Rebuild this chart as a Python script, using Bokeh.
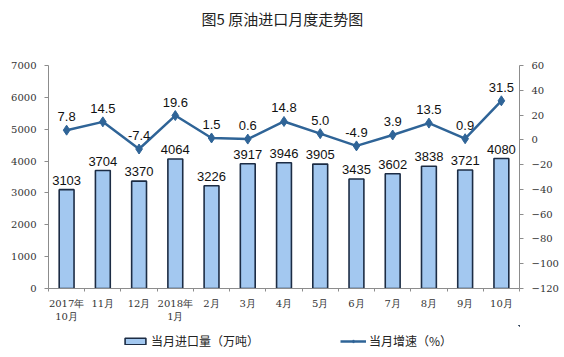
from bokeh.plotting import figure
from bokeh.models import (Range1d, LinearAxis, FixedTicker, Legend, LegendItem,
                          ColumnDataSource, Title)
from bokeh.layouts import column
from bokeh.embed import file_html
from bokeh.resources import INLINE
from bokeh.core.properties import value

months = ["2017年\n10月", "11月", "12月", "2018年\n1月", "2月", "3月", "4月",
          "5月", "6月", "7月", "8月", "9月", "10月"]
imports = [3103, 3704, 3370, 4064, 3226, 3917, 3946, 3905, 3435, 3602, 3838, 3721, 4080]
growth = [7.8, 14.5, -7.4, 19.6, 1.5, 0.6, 14.8, 5.0, -4.9, 3.9, 13.5, 0.9, 31.5]
left_ticks = [0, 1000, 2000, 3000, 4000, 5000, 6000, 7000]
right_ticks = [-120, -100, -80, -60, -40, -20, 0, 20, 40, 60]

BAR_FILL = "#a3c8f0"
BAR_LINE = "#1c2c44"
LINE_COL = "#2f6497"

xs = list(range(len(months)))
src = ColumnDataSource(dict(
    x=xs, imp=imports, gr=growth,
    imp_lbl=[str(v) for v in imports],
    gr_lbl=[f"{v:.1f}" for v in growth],
))

p = figure(width=564, height=325, output_backend="svg", toolbar_location=None,
           x_range=Range1d(-0.5, 12.5), y_range=Range1d(0, 7000),
           min_border_left=48, min_border_right=45, min_border_top=64,
           min_border_bottom=37, outline_line_color=None,
           background_fill_color="white", border_fill_color="white")

p.title = None
p.add_layout(Title(text=" ", text_font_size="18px"), "above")
p.add_layout(Title(text="图5  原油进口月度走势图", align="center",
                   text_font="Noto Sans CJK SC", text_font_size="15px",
                   text_font_style="normal", text_color="#222222"), "above")

p.extra_y_ranges = {"g": Range1d(-120, 60)}

p.xgrid.visible = False
p.ygrid.visible = False

axis_col = "#8c8c8c"
tick_font = "DejaVu Serif"

# x axis
xa = p.xaxis[0]
xa.ticker = FixedTicker(ticks=xs, minor_ticks=[i + 0.5 for i in range(-1, 13)])
xa.major_label_overrides = {i: m for i, m in enumerate(months)}
xa.major_tick_out = 0
xa.major_tick_in = 0
xa.minor_tick_out = 3
xa.minor_tick_in = 0
xa.axis_line_color = axis_col
xa.minor_tick_line_color = axis_col
xa.major_label_text_font = tick_font
xa.major_label_text_font_size = "10px"
xa.major_label_text_color = "#333333"
xa.major_label_standoff = 6

# left axis
ya = p.yaxis[0]
ya.ticker = FixedTicker(ticks=left_ticks)
ya.minor_tick_line_color = None
ya.major_tick_out = 4
ya.major_tick_in = 0
ya.axis_line_color = axis_col
ya.major_tick_line_color = axis_col
ya.major_label_text_font = tick_font
ya.major_label_text_font_size = "10px"
ya.major_label_text_color = "#333333"
ya.major_label_standoff = 8

# right axis
ra = LinearAxis(y_range_name="g", ticker=FixedTicker(ticks=right_ticks))
ra.minor_tick_line_color = None
ra.major_tick_out = 4
ra.major_tick_in = 0
ra.axis_line_color = axis_col
ra.major_tick_line_color = axis_col
ra.major_label_text_font = tick_font
ra.major_label_text_font_size = "10px"
ra.major_label_text_color = "#333333"
ra.major_label_standoff = 8
p.add_layout(ra, "right")

p.vbar(x="x", top="imp", width=0.41, bottom=0, source=src,
       fill_color=BAR_FILL, line_color=BAR_LINE, line_width=1.6)
p.line(x="x", y="gr", source=src, y_range_name="g",
       line_color=LINE_COL, line_width=2.5)
p.scatter(x="x", y="gr", source=src, y_range_name="g", marker="diamond",
          size=10, fill_color=LINE_COL, line_color=LINE_COL)

p.text(x="x", y="imp", text="imp_lbl", source=src, text_align="center",
       text_baseline="bottom", y_offset=-5, text_font=value("Liberation Sans"),
       text_font_size="13px", text_color="#111111")
p.text(x="x", y="gr", text="gr_lbl", source=src, y_range_name="g",
       text_align="center", text_baseline="bottom", y_offset=-9,
       text_font=value("Liberation Sans"), text_font_size="13px",
       text_color="#111111")

# legend strip (its renderers hold the same series, drawn far outside its view)
q = figure(width=564, height=32, output_backend="svg", toolbar_location=None,
           x_range=Range1d(-1000, -999), y_range=Range1d(-1000000, -999999),
           min_border_left=0, min_border_right=0, min_border_top=0,
           min_border_bottom=0, outline_line_color=None,
           background_fill_color="white", border_fill_color="white")
q.axis.visible = False
q.grid.visible = False
lb = q.vbar(x=xs, top=imports, bottom=1000, width=0.41, fill_color=BAR_FILL,
            line_color=BAR_LINE, line_width=1.6)
ll = q.line(x=xs, y=growth, line_color=LINE_COL, line_width=2.5)
lp = q.scatter(x=xs, y=growth, marker="diamond", size=7, fill_color=LINE_COL,
               line_color=LINE_COL)

legend = Legend(items=[
    LegendItem(label="当月进口量（万吨）", renderers=[lb]),
    LegendItem(label="当月增速（%）", renderers=[ll, lp]),
], orientation="horizontal", location=(74, 8), spacing=81,
    glyph_width=26, glyph_height=8, label_text_font="Noto Sans CJK SC",
    label_text_font_size="12px", label_text_color="#222222",
    border_line_color=None, background_fill_alpha=0, padding=2, margin=0,
    label_standoff=3, label_height=14)
q.add_layout(legend)

open("out.html", "w").write(file_html(column(p, q, spacing=0), INLINE))
